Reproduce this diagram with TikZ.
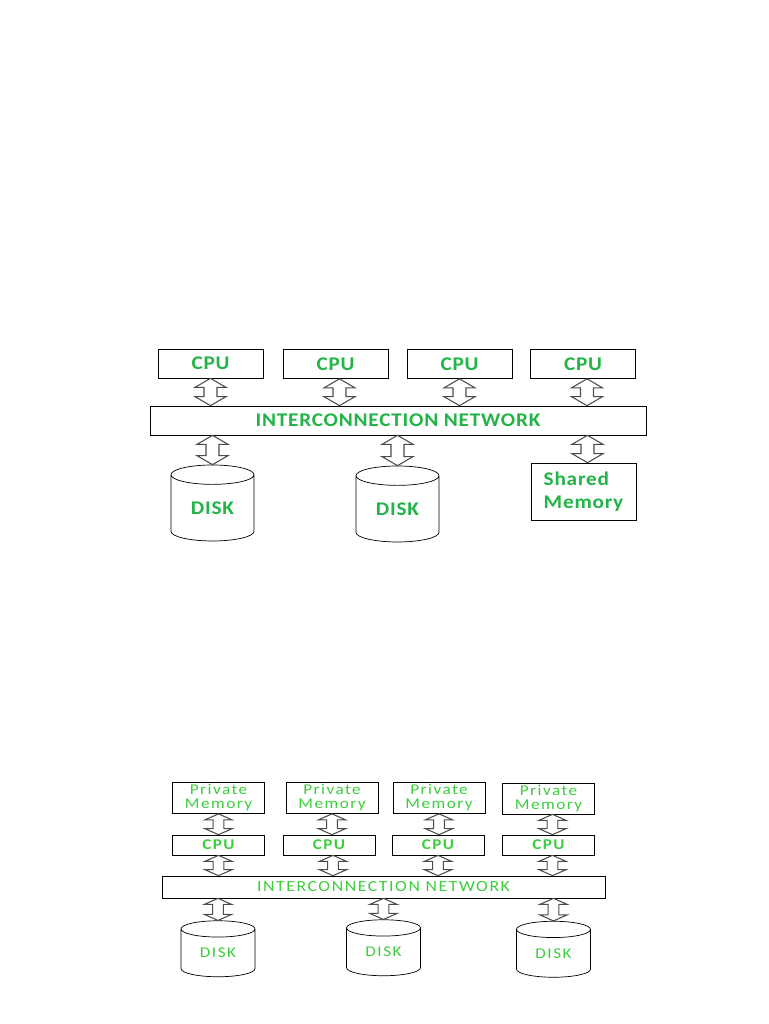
\documentclass[tikz,border=0pt]{standalone}
\usepackage{fontspec}
\setmainfont{Carlito}
\newfontfamily\topfont[FakeStretch=1.1,LetterSpace=4]{Carlito}
\newfontfamily\botfont[FakeStretch=1.15,LetterSpace=10]{Carlito}
\usetikzlibrary{calc,shapes.geometric}
\definecolor{boldgreen}{RGB}{34,180,70}
\definecolor{lightgreen}{RGB}{60,205,60}
\tikzset{dbl/.style n args={3}{to path={let \p1=(\tikztostart), \p2=(\tikztotarget), \n1={ifthenelse(\y1>\y2,1,-1)} in
  (\x1,\y1) -- (\x1+#1,\y1-\n1*#3) -- (\x1+#2,\y1-\n1*#3) -- (\x1+#2,\y2+\n1*#3) -- (\x1+#1,\y2+\n1*#3) -- (\x1,\y2)
  -- (\x1-#1,\y2+\n1*#3) -- (\x1-#2,\y2+\n1*#3) -- (\x1-#2,\y1-\n1*#3) -- (\x1-#1,\y1-\n1*#3) -- cycle}}}
\tikzstyle{tbox}=[draw,thin,minimum width=2.1cm,minimum height=0.58cm,inner sep=0pt,font=\topfont\bfseries\fontsize{11}{13}\selectfont,text=boldgreen]
\tikzstyle{tdisk}=[cylinder,shape border rotate=90,draw,thin,aspect=0.45,minimum width=1.66cm,minimum height=1.52cm,inner sep=0pt,font=\topfont\bfseries\fontsize{11}{13}\selectfont,text=boldgreen]
\tikzstyle{tarrow}=[draw=black!70,semithick,fill=white,dbl={8.8pt}{3.7pt}{5.1pt}]
\tikzstyle{bbox}=[draw,thin,minimum width=1.84cm,minimum height=0.62cm,inner sep=0pt,align=center,font=\botfont\fontsize{8.5}{9}\selectfont,text=lightgreen]
\tikzstyle{bdisk}=[cylinder,shape border rotate=90,draw,thin,aspect=0.45,minimum width=1.48cm,minimum height=1.12cm,inner sep=0pt,font=\botfont\fontsize{8.5}{9}\selectfont,text=lightgreen]
\tikzstyle{barrow}=[draw=black!70,semithick,fill=white,dbl={7.7pt}{3.1pt}{3.4pt}]

\begin{document}
\begin{tikzpicture}[x=0.02cm,y=-0.02cm]
\useasboundingbox (0,0) rectangle (768,1024);
\node[tbox] at (210.5, 363.5) (tcpu1) {CPU};
\node[tbox] at (335.5, 364) (tcpu2) {CPU};
\node[tbox] at (459.5, 364) (tcpu3) {CPU};
\node[tbox] at (583, 364) (tcpu4) {CPU};
\node[tbox, minimum width=9.92cm] at (398, 420.5) (tnet) {INTERCONNECTION NETWORK};
\node[tdisk] at (212.5, 508) (tdisk1) {DISK};
\node[tdisk] at (397.5, 509) (tdisk2) {DISK};
\node[tbox, minimum height=1.14cm, align=left] at (583.5, 491.5) (tmem) {Shared\\Memory};
\draw[tarrow] (tcpu1.south) to (tnet.north);
\draw[tarrow] ([xshift=0.08cm]tcpu2.south) to (tnet.north);
\draw[tarrow] (tcpu3.south) to (tnet.north);
\draw[tarrow] ([xshift=0.08cm]tcpu4.south) to (tnet.north);
\draw[tarrow] (tdisk1.north) to (tnet.south);
\draw[tarrow] (tdisk2.north) to (tnet.south);
\draw[tarrow] ([xshift=0.08cm]tmem.north) to (tnet.south);

\node[bbox] at (218.5, 798) (bmem1) {Private\\[-1pt]Memory};
\node[bbox] at (332, 798) (bmem2) {Private\\[-1pt]Memory};
\node[bbox] at (439, 798) (bmem3) {Private\\[-1pt]Memory};
\node[bbox] at (548.5, 798.5) (bmem4) {Private\\[-1pt]Memory};
\node[bbox, minimum height=0.4cm, font=\botfont\bfseries\fontsize{8.5}{9}\selectfont] at (218.5, 845) (bcpu1) {CPU};
\node[bbox, minimum height=0.4cm, font=\botfont\bfseries\fontsize{8.5}{9}\selectfont] at (329, 845) (bcpu2) {CPU};
\node[bbox, minimum height=0.4cm, font=\botfont\bfseries\fontsize{8.5}{9}\selectfont] at (438, 845) (bcpu3) {CPU};
\node[bbox, minimum height=0.4cm, font=\botfont\bfseries\fontsize{8.5}{9}\selectfont] at (548.5, 845) (bcpu4) {CPU};
\node[bbox, minimum width=8.86cm, minimum height=0.44cm, font=\botfont\fontsize{8.8}{9}\selectfont] at (383.5, 887) (bnet) {INTERCONNECTION NETWORK};
\node[bdisk] at (218, 953) (bdisk1) {DISK};
\node[bdisk] at (383.5, 952) (bdisk2) {DISK};
\node[bdisk] at (553.5, 953.5) (bdisk3) {DISK};
\draw[barrow] (bmem1.south) to (bcpu1.north);
\draw[barrow] (bmem2.south) to (bcpu2.north);
\draw[barrow] (bmem3.south) to (bcpu3.north);
\draw[barrow] ([xshift=0.08cm]bmem4.south) to (bcpu4.north);
\draw[barrow] (bcpu1.south) to (bnet.north);
\draw[barrow] ([xshift=0.08cm]bcpu2.south) to (bnet.north);
\draw[barrow] (bcpu3.south) to (bnet.north);
\draw[barrow] ([xshift=0.08cm]bcpu4.south) to (bnet.north);
\draw[barrow] (bdisk1.north) to (bnet.south);
\draw[barrow] (bdisk2.north) to (bnet.south);
\draw[barrow] (bdisk3.north) to (bnet.south);
\end{tikzpicture}
\end{document}
